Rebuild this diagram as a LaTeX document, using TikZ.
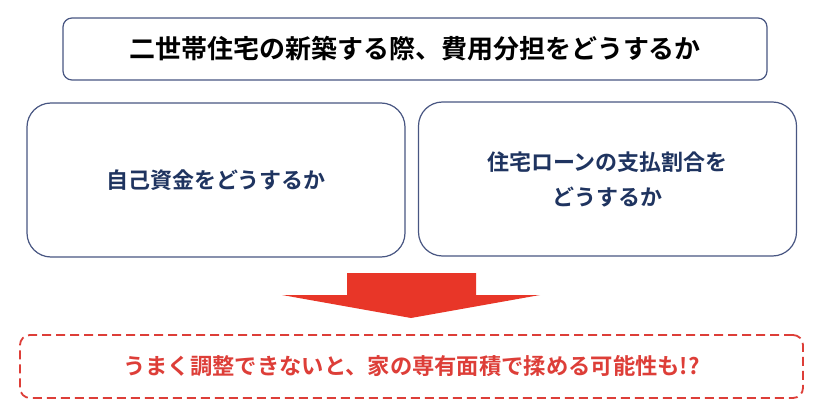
\documentclass[tikz,border=0pt]{standalone}
\usepackage{fontspec}
\setmainfont{Noto Sans CJK JP}[BoldFont={* Bold}]
\usetikzlibrary{positioning}

\definecolor{framegray}{RGB}{72,86,130}
\definecolor{navytext}{RGB}{31,52,96}
\definecolor{arrowred}{RGB}{232,54,40}
\definecolor{warnred}{RGB}{221,62,56}

\tikzset{
	titlebox/.style={draw=framegray, line width=1.2pt, rounded corners=9pt, fill=white,
		minimum width=704pt, minimum height=62pt, font=\fontsize{26pt}{30pt}\selectfont\bfseries},
	qbox/.style={draw=framegray, line width=1.2pt, rounded corners=24pt, fill=white,
		minimum width=378pt, minimum height=154pt, text=navytext, align=center,
		font=\fontsize{22pt}{35pt}\selectfont\bfseries},
	warnbox/.style={draw=warnred, line width=1.8pt, dash pattern=on 9pt off 5pt,
		rounded corners=10pt, minimum width=783pt, minimum height=63pt, text=warnred,
		font=\fontsize{22.3pt}{26pt}\selectfont\bfseries}
}

\begin{document}
\begin{tikzpicture}[x=1pt,y=-1pt]
	\useasboundingbox (0,0) rectangle (828,417);

	\node [titlebox] (title) at (415,49) {二世帯住宅の新築する際、費用分担をどうするか};

	\node [qbox] (own) at (216,180) {自己資金をどうするか};
	\node [qbox] (loan) at (607.5,179) {住宅ローンの支払割合を\\どうするか};

	% big red arrow
	\fill [arrowred] (347,273) -- (476,273) -- (476,295) -- (540,295)
	-- (411,318) -- (282,295) -- (347,295) -- cycle;

	\node [warnbox] (warn) at (411.5,366.5) {うまく調整できないと、家の専有面積で揉める可能性も!?};
\end{tikzpicture}
\end{document}
